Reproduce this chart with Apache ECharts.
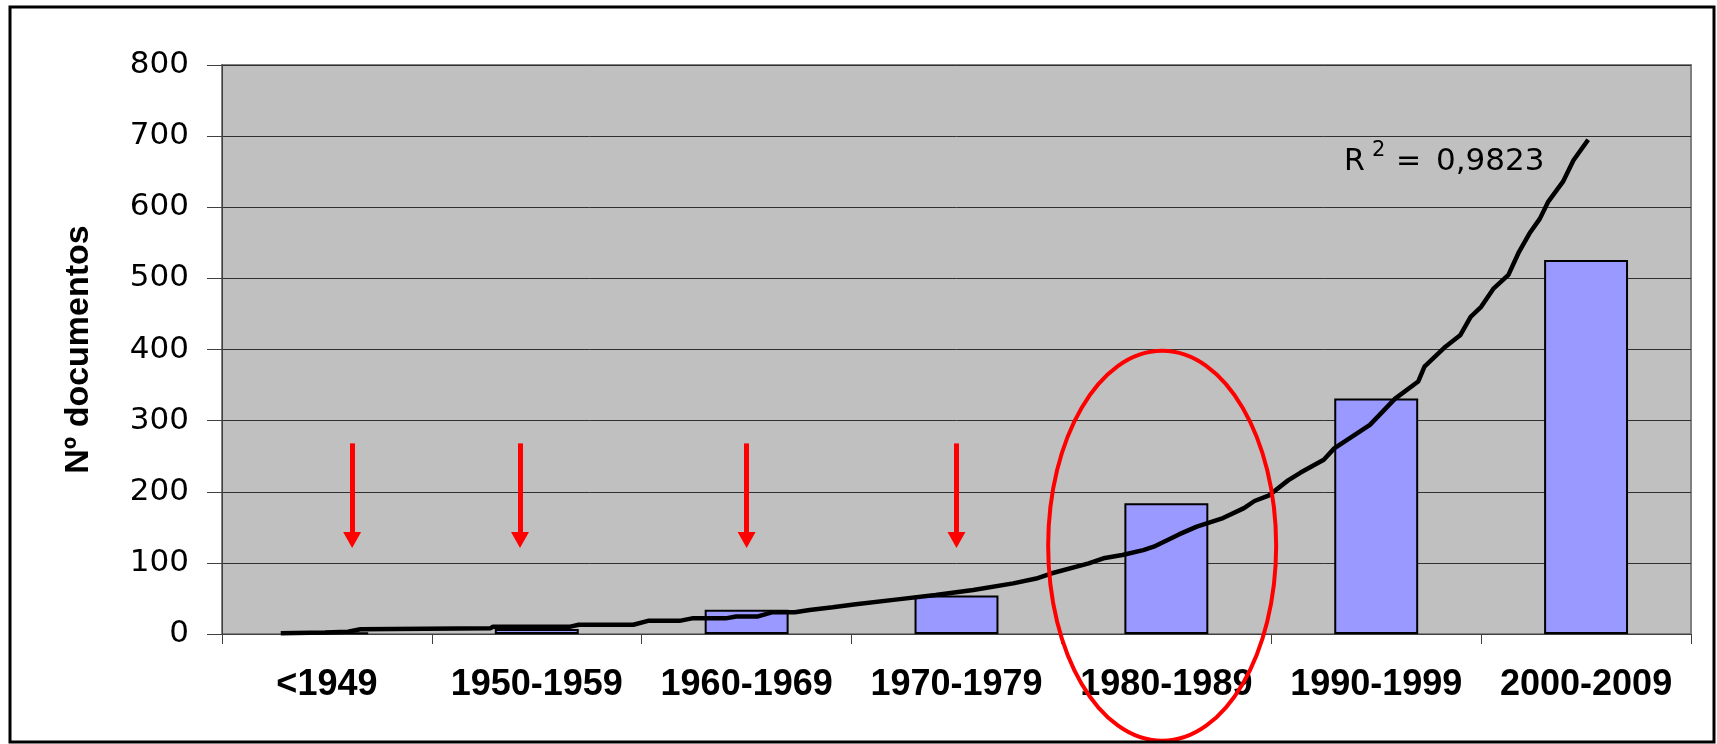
<!DOCTYPE html>
<html>
<head>
<meta charset="utf-8">
<script src="https://cdn.jsdelivr.net/npm/echarts@6/dist/echarts.min.js"></script>
<style>
  html, body { margin: 0; padding: 0; background: #fff; }
  #main { width: 1717px; height: 744px; }
</style>
</head>
<body>
<div id="main"></div>
<script>
// decades on the x axis and number of documents per decade
const categories = ['<1949', '1950-1959', '1960-1969', '1970-1979', '1980-1989', '1990-1999', '2000-2009'];
const docs = [2, 7, 34, 54, 184, 331, 526];

// trend line (x in category units from the left edge)
const trendX = [0.28, 0.49, 0.60, 0.66, 1.28, 1.29, 1.66, 1.70, 1.96, 2.03, 2.18, 2.24, 2.40, 2.45, 2.55, 2.62, 2.73,
  2.80, 2.91, 3.02, 3.22, 3.40, 3.58, 3.77, 3.88, 3.95, 4.13, 4.20, 4.29, 4.39, 4.44, 4.56, 4.645, 4.77, 4.87,
  4.92, 4.99, 5.08, 5.14, 5.25, 5.30, 5.47, 5.59, 5.70, 5.73, 5.83, 5.90, 5.95, 6.00, 6.06, 6.13, 6.18, 6.23,
  6.28, 6.32, 6.39, 6.44, 6.51];
const trendY = [1, 2, 3.3, 6.6, 8, 10.3, 10.3, 13, 13, 18.5, 18.5, 22, 22, 24.5, 24.5, 30.5, 30.5,
  33.7, 37.5, 41.7, 48.7, 54.8, 61.9, 71.2, 78, 85, 99.3, 106.4, 111, 118, 122.8, 140, 151, 163, 177,
  187, 195, 216, 227, 245, 261, 294, 331, 355, 376, 404, 420, 446, 460, 486, 505, 537, 563,
  584, 608, 636, 666, 695];

const yTicks = [0, 100, 200, 300, 400, 500, 600, 700, 800];
const r2Value = '0,9823';

// annotation arrows (x in category units)
const arrowX = [0.62, 1.42, 2.5, 3.5];

const chart = echarts.init(document.getElementById('main'));

const trendData = trendX.map((x, i) => [x, trendY[i]]);
const ARIAL = 'Liberation Sans, Arial, sans-serif';
const WIDE = 'DejaVu Sans, sans-serif';

const option = {
  animation: false,
  grid: {
    left: 222, right: 26, top: 65, bottom: 110,
    show: true,
    backgroundColor: '#c0c0c0',
    borderColor: '#808080',
    borderWidth: 2
  },
  xAxis: [
    {
      type: 'category',
      data: categories,
      axisLine: { lineStyle: { color: '#404040', width: 1 } },
      axisTick: { show: true, length: 10, lineStyle: { color: '#404040' } },
      axisLabel: {
        interval: 0,
        hideOverlap: false,
        color: '#000', fontFamily: ARIAL, fontWeight: 'bold', fontSize: 36, margin: 33
      }
    },
    { type: 'value', min: 0, max: 7, show: false }
  ],
  yAxis: {
    type: 'value',
    min: yTicks[0],
    max: yTicks[yTicks.length - 1],
    interval: 100,
    name: 'Nº documentos',
    nameLocation: 'middle',
    nameGap: 126,
    nameTextStyle: { color: '#000', fontFamily: ARIAL, fontWeight: 'bold', fontSize: 34 },
    axisLine: { show: true, lineStyle: { color: '#404040', width: 1 } },
    axisTick: { show: true, length: 15, lineStyle: { color: '#404040' } },
    axisLabel: { color: '#000', fontFamily: WIDE, fontSize: 31, margin: 33 },
    splitLine: { lineStyle: { color: '#303030', width: 1 } }
  },
  series: [
    {
      type: 'bar',
      data: docs,
      barWidth: '40%',
      itemStyle: { color: '#9999ff', borderColor: '#000', borderWidth: 2 },
      silent: true
    },
    {
      type: 'line',
      xAxisIndex: 1,
      data: trendData,
      showSymbol: false,
      symbol: 'none',
      lineStyle: { color: '#000', width: 4.5 },
      silent: true,
      z: 5,
      markLine: {
        silent: true,
        symbol: ['none', 'triangle'],
        symbolSize: [18, 16],
        label: { show: false },
        lineStyle: { color: '#ff0000', width: 5, type: 'solid' },
        data: arrowX.map(x => [{ coord: [x, 268] }, { coord: [x, 132] }])
      }
    }
  ]
};
chart.setOption(option);

// ellipse around 1980-1989 and the R² label
const c = chart.convertToPixel({ xAxisIndex: 1, yAxisIndex: 0 }, [4.48, 124]);
chart.setOption({
  graphic: [
    {
      type: 'ellipse',
      shape: { cx: c[0], cy: c[1], rx: 114, ry: 195 },
      style: { fill: 'none', stroke: '#ff0000', lineWidth: 4 },
      z: 100, silent: true
    },
    {
      type: 'text', z: 100, silent: true,
      style: { x: 1344, y: 162, text: 'R', font: '30px ' + WIDE, fill: '#000', verticalAlign: 'middle' }
    },
    {
      type: 'text', z: 100, silent: true,
      style: { x: 1372, y: 151, text: '2', font: '21px ' + WIDE, fill: '#000', verticalAlign: 'middle' }
    },
    {
      type: 'text', z: 100, silent: true,
      style: { x: 1396, y: 162, text: '=', font: '30px ' + WIDE, fill: '#000', verticalAlign: 'middle' }
    },
    {
      type: 'text', z: 100, silent: true,
      style: { x: 1436, y: 162, text: r2Value, font: '31px ' + WIDE, fill: '#000', verticalAlign: 'middle' }
    },
    {
      type: 'rect',
      shape: { x: 10, y: 7, width: 1704, height: 735 },
      style: { fill: 'none', stroke: '#000', lineWidth: 3 },
      z: 100, silent: true
    }
  ]
});
</script>
</body>
</html>
